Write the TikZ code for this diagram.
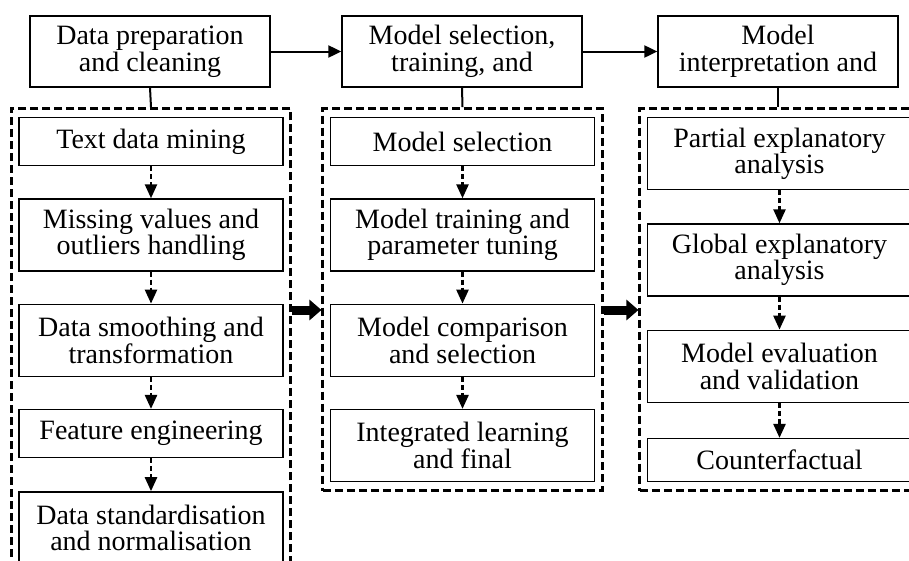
\documentclass[tikz,border=0pt]{standalone}
\usepackage{fontspec}
\setmainfont{Liberation Serif}
\usetikzlibrary{positioning,arrows.meta,fit}

\tikzset{
  stage/.style={draw, line width=1.3pt, minimum width=240pt, minimum height=71pt,
    align=center, inner sep=0pt},
  task/.style={draw, line width=1.3pt, minimum width=264pt, minimum height=48pt,
    align=center, inner sep=0pt},
  tall/.style={task, minimum height=72pt},
  group/.style={draw, line width=2.8pt, dash pattern=on 8pt off 4pt,
    inner xsep=7pt, inner ysep=8.5pt},
  flow/.style={line width=2.5pt, dash pattern=on 5pt off 3pt,
    -{Triangle[length=14pt,width=12pt]}},
  link/.style={line width=2pt, -{Triangle[length=13pt,width=12pt]}},
  fat/.style={line width=9pt, -{Triangle[length=12pt,width=20pt]}},
}

\begin{document}
\begin{tikzpicture}[x=1pt, y=-1pt, font=\fontsize{28}{26.5}\selectfont]

  \useasboundingbox (0,0) rectangle (909,560);

  % the three stages
  \node[stage] (prep) at (150,51.5) {Data preparation\\and cleaning};
  \node[stage] (train) at (462,51.5) {Model selection,\\training, and};
  \node[stage] (interp) at (778,51.5) {Model\\interpretation and};

  \draw[link] (prep) -- (train);
  \draw[link] (train) -- (interp);

  % data preparation steps
  \node[task, anchor=north] (txt) at (151,117) {Text data mining};
  \node[tall, below=32pt of txt] (miss) {Missing values and\\outliers handling};
  \node[tall, below=32pt of miss] (smooth) {Data smoothing and\\transformation};
  \node[task, below=32pt of smooth] (feat) {Feature engineering};
  \node[tall, below=33pt of feat] (std) {Data standardisation\\and normalisation};

  % model steps
  \node[task, anchor=north] (sel) at (462.5,117) {Model selection};
  \node[tall, below=32pt of sel] (tune) {Model training and\\parameter tuning};
  \node[tall, below=32pt of tune] (comp) {Model comparison\\and selection};
  \node[tall, below=32pt of comp] (ens) {Integrated learning\\and final};

  % interpretation steps
  \node[tall, anchor=north] (part) at (779.5,117) {Partial explanatory\\analysis};
  \node[tall, below=33pt of part] (glob) {Global explanatory\\analysis};
  \node[tall, below=33pt of glob] (eval) {Model evaluation\\and validation};
  \node[task, minimum height=43pt, below=35pt of eval] (cf) {Counterfactual};

  \foreach \a/\b in {txt/miss, miss/smooth, smooth/feat, feat/std,
                     sel/tune, tune/comp, comp/ens,
                     part/glob, glob/eval, eval/cf}
    \draw[flow] (\a) -- (\b);

  % dashed frames
  \node[group, fit=(txt)(std)] (prepgrp) {};
  \node[group, fit=(sel)(ens)] (traingrp) {};
  \node[group, fit=(part)(cf)] (interpgrp) {};

  \draw[line width=2pt] (prep.south) -- (prepgrp.north);
  \draw[line width=2pt] (train.south) -- (traingrp.north);
  \draw[line width=2pt] (interp.south) -- (interpgrp.north -| interp.south);

  \draw[fat] (prepgrp.east |- 0,310) -- (traingrp.west |- 0,310);
  \draw[fat] (traingrp.east |- 0,310) -- (interpgrp.west |- 0,310);

\end{tikzpicture}
\end{document}
